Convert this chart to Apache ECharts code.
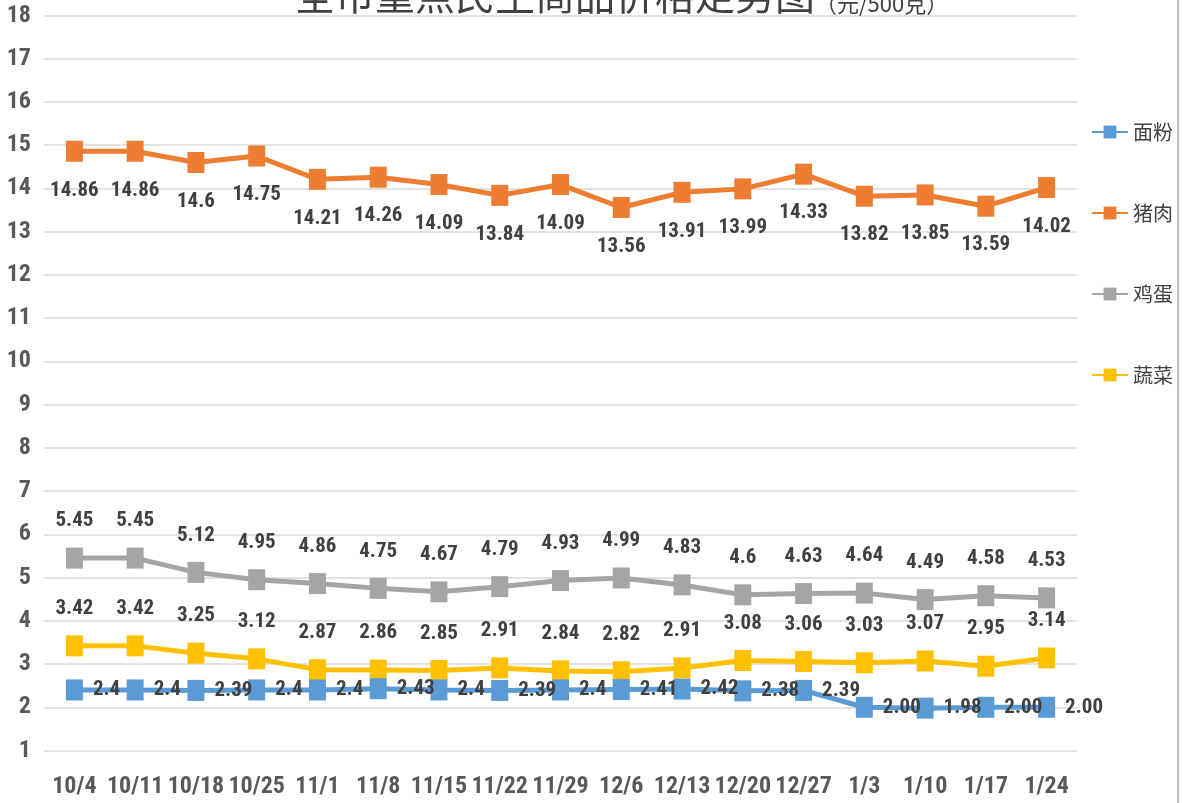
<!DOCTYPE html>
<html>
<head>
<meta charset="utf-8">
<script src="https://cdn.jsdelivr.net/npm/echarts@6/dist/echarts.min.js"></script>
<style>
  html, body { margin: 0; padding: 0; background: #fff; }
  #chart { width: 1186px; height: 803px; }
</style>
</head>
<body>
<div id="chart"></div>
<script>
// 周次
const weeks = ['10/4', '10/11', '10/18', '10/25', '11/1', '11/8', '11/15', '11/22', '11/29',
  '12/6', '12/13', '12/20', '12/27', '1/3', '1/10', '1/17', '1/24'];

const flour = [2.4, 2.4, 2.39, 2.4, 2.4, 2.43, 2.4, 2.39, 2.4, 2.41, 2.42, 2.38, 2.39, 2.00, 1.98, 2.00, 2.00];
const flourLabels = ['2.4', '2.4', '2.39', '2.4', '2.4', '2.43', '2.4', '2.39', '2.4', '2.41', '2.42', '2.38', '2.39', '2.00', '1.98', '2.00', '2.00'];
const pork = [14.86, 14.86, 14.6, 14.75, 14.21, 14.26, 14.09, 13.84, 14.09, 13.56, 13.91, 13.99, 14.33, 13.82, 13.85, 13.59, 14.02];
const eggs = [5.45, 5.45, 5.12, 4.95, 4.86, 4.75, 4.67, 4.79, 4.93, 4.99, 4.83, 4.6, 4.63, 4.64, 4.49, 4.58, 4.53];
const veg = [3.42, 3.42, 3.25, 3.12, 2.87, 2.86, 2.85, 2.91, 2.84, 2.82, 2.91, 3.08, 3.06, 3.03, 3.07, 2.95, 3.14];

const numFont = "'Liberation Sans Narrow', 'Arial Narrow', 'Roboto Condensed', sans-serif";
const cjkFont = "'Noto Sans CJK SC', sans-serif";

const labelStyle = {
  show: true,
  color: '#404040',
  fontFamily: numFont,
  fontWeight: 'bold',
  fontSize: 21
};

const lineSeries = {
  type: 'line',
  symbol: 'rect',
  symbolSize: [17, 21],
  lineStyle: { width: 5 },
  emphasis: { disabled: true }
};

const chart = echarts.init(document.getElementById('chart'));
const option = {
  animation: false,
  color: ['#5B9BD5', '#ED7D31', '#A5A5A5', '#FFC000'],
  title: {
    text: '{m|全市重点民生商品价格走势图}{s|（元/500克）}',
    left: 290,
    top: -30,
    textStyle: {
      rich: {
        m: { fontFamily: cjkFont, fontSize: 40, fontWeight: 'normal', color: '#404040', verticalAlign: 'bottom' },
        s: { fontFamily: cjkFont, fontSize: 22, fontWeight: 'normal', color: '#404040', verticalAlign: 'bottom' }
      }
    }
  },
  legend: {
    orient: 'vertical',
    left: 1086,
    top: 117,
    itemGap: 61,
    itemWidth: 36,
    itemHeight: 16,
    data: ['面粉', '猪肉', '鸡蛋', '蔬菜'],
    textStyle: { fontFamily: cjkFont, fontSize: 20, color: '#404040' }
  },
  grid: {
    left: 44,
    right: 109,
    top: 15.5,
    bottom: 52.5
  },
  xAxis: {
    type: 'category',
    boundaryGap: true,
    data: weeks,
    axisLine: { show: false },
    axisTick: { show: false },
    axisLabel: {
      margin: 24,
      interval: 0,
      color: '#595959',
      fontFamily: numFont,
      fontWeight: 'bold',
      fontSize: 24
    }
  },
  yAxis: {
    type: 'value',
    min: 1,
    max: 18,
    interval: 1,
    axisLine: { show: false },
    axisTick: { show: false },
    axisLabel: {
      margin: 13,
      color: '#595959',
      fontFamily: numFont,
      fontWeight: 'bold',
      fontSize: 24
    },
    splitLine: { lineStyle: { color: '#D9D9D9', width: 1.5 } }
  },
  graphic: [{
    type: 'line',
    shape: { x1: 1178, y1: 0, x2: 1178, y2: 803 },
    style: { stroke: '#BFBFBF', lineWidth: 2 }
  }],
  series: [
    {
      name: '面粉',
      ...lineSeries,
      z: 5,
      data: flour,
      label: {
        ...labelStyle,
        position: 'right',
        distance: 10,
        formatter: (p) => flourLabels[p.dataIndex]
      }
    },
    {
      name: '猪肉',
      ...lineSeries,
      data: pork,
      label: { ...labelStyle, position: 'bottom', distance: 18 }
    },
    {
      name: '鸡蛋',
      ...lineSeries,
      data: eggs,
      label: { ...labelStyle, position: 'top', distance: 16 }
    },
    {
      name: '蔬菜',
      ...lineSeries,
      data: veg,
      label: { ...labelStyle, position: 'top', distance: 16 }
    }
  ]
};
chart.setOption(option);
</script>
</body>
</html>
